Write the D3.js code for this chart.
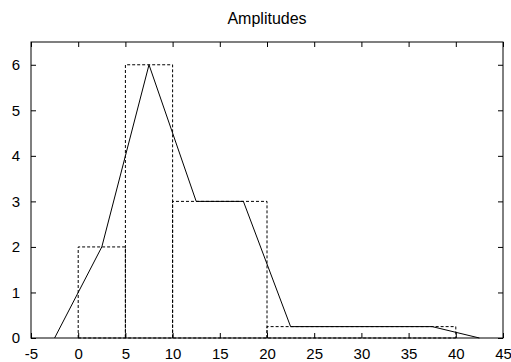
<!DOCTYPE html>
<html>
<head>
<meta charset="utf-8">
<script src="https://cdn.jsdelivr.net/npm/d3@7"></script>
<style>
body { margin: 0; background: #fff; }
text { font-family: "Liberation Sans", Arial, sans-serif; font-size: 15px; fill: #000; }
</style>
</head>
<body>
<div id="chart"></div>
<script>
var w = 511;
var h = 362;
var padLeft = 31, padRight = 503, padTop = 42, padBottom = 338;

var binEdges = [0, 5, 10, 20, 40];
var binHeights = [2, 6, 3, 0.25];
var lineX = [-2.5, 2.5, 7.5, 12.5, 17.5, 22.5, 37.5, 42.5];
var lineY = [0, 2, 6, 3, 3, 0.25, 0.25, 0];
var xTicks = [-5, 0, 5, 10, 15, 20, 25, 30, 35, 40, 45];
var yTicks = [0, 1, 2, 3, 4, 5, 6];

var svg = d3.select("#chart")
	.append("svg")
	.attr("width", w)
	.attr("height", h);

var xScale = d3.scaleLinear().domain([-5, 45]).range([padLeft, padRight]);
var yScale = d3.scaleLinear().domain([0, 6.5]).range([padBottom, padTop]);

var plain = function(d) { return String(d); };

// inward ticks, mirrored on all sides like gnuplot
var tickLen = 5;
svg.append("g")
	.attr("transform", "translate(0," + padBottom + ")")
	.call(d3.axisBottom(xScale).tickValues(xTicks).tickSizeInner(-tickLen).tickSizeOuter(0).tickPadding(10).tickFormat(plain))
	.call(function(g) { g.select(".domain").remove(); });
svg.append("g")
	.attr("transform", "translate(0," + padTop + ")")
	.call(d3.axisTop(xScale).tickValues(xTicks).tickSizeInner(-tickLen).tickSizeOuter(0).tickFormat(""))
	.call(function(g) { g.select(".domain").remove(); });
svg.append("g")
	.attr("transform", "translate(" + padLeft + ",0)")
	.call(d3.axisLeft(yScale).tickValues(yTicks).tickSizeInner(-tickLen).tickSizeOuter(0).tickPadding(11).tickFormat(plain))
	.call(function(g) { g.select(".domain").remove(); });
svg.append("g")
	.attr("transform", "translate(" + padRight + ",0)")
	.call(d3.axisRight(yScale).tickValues(yTicks).tickSizeInner(-tickLen).tickSizeOuter(0).tickFormat(""))
	.call(function(g) { g.select(".domain").remove(); });

svg.selectAll(".tick text")
	.style("font-family", "'Liberation Sans', Arial, sans-serif")
	.style("font-size", "15px");

// histogram boxes
var pathLine = d3.line().x(function(d) { return xScale(d[0]); }).y(function(d) { return yScale(d[1]); });
binHeights.forEach(function(v, i) {
	var x0 = binEdges[i], x1 = binEdges[i + 1];
	svg.append("path")
		.attr("d", pathLine([[x0, 0], [x0, v], [x1, v], [x1, 0]]))
		.attr("fill", "none")
		.attr("stroke", "#000")
		.attr("stroke-width", 1)
		.attr("stroke-dasharray", "3,2");
});
svg.append("path")
	.attr("d", pathLine([[binEdges[0], 0], [binEdges[binEdges.length - 1], 0]]))
	.attr("stroke", "#000")
	.attr("stroke-dasharray", "3,2");

// polygon line
svg.append("path")
	.attr("d", pathLine(lineX.map(function(x, i) { return [x, lineY[i]]; })))
	.attr("fill", "none")
	.attr("stroke", "#000")
	.attr("stroke-width", 1);

svg.append("rect")
	.attr("x", padLeft).attr("y", padTop)
	.attr("width", padRight - padLeft).attr("height", padBottom - padTop)
	.attr("fill", "none")
	.attr("stroke", "#000")
	.attr("stroke-width", 1);

svg.append("text")
	.attr("x", (padLeft + padRight) / 2)
	.attr("y", 24)
	.attr("text-anchor", "middle")
	.style("font-size", "16px")
	.text("Amplitudes");
</script>
</body>
</html>
